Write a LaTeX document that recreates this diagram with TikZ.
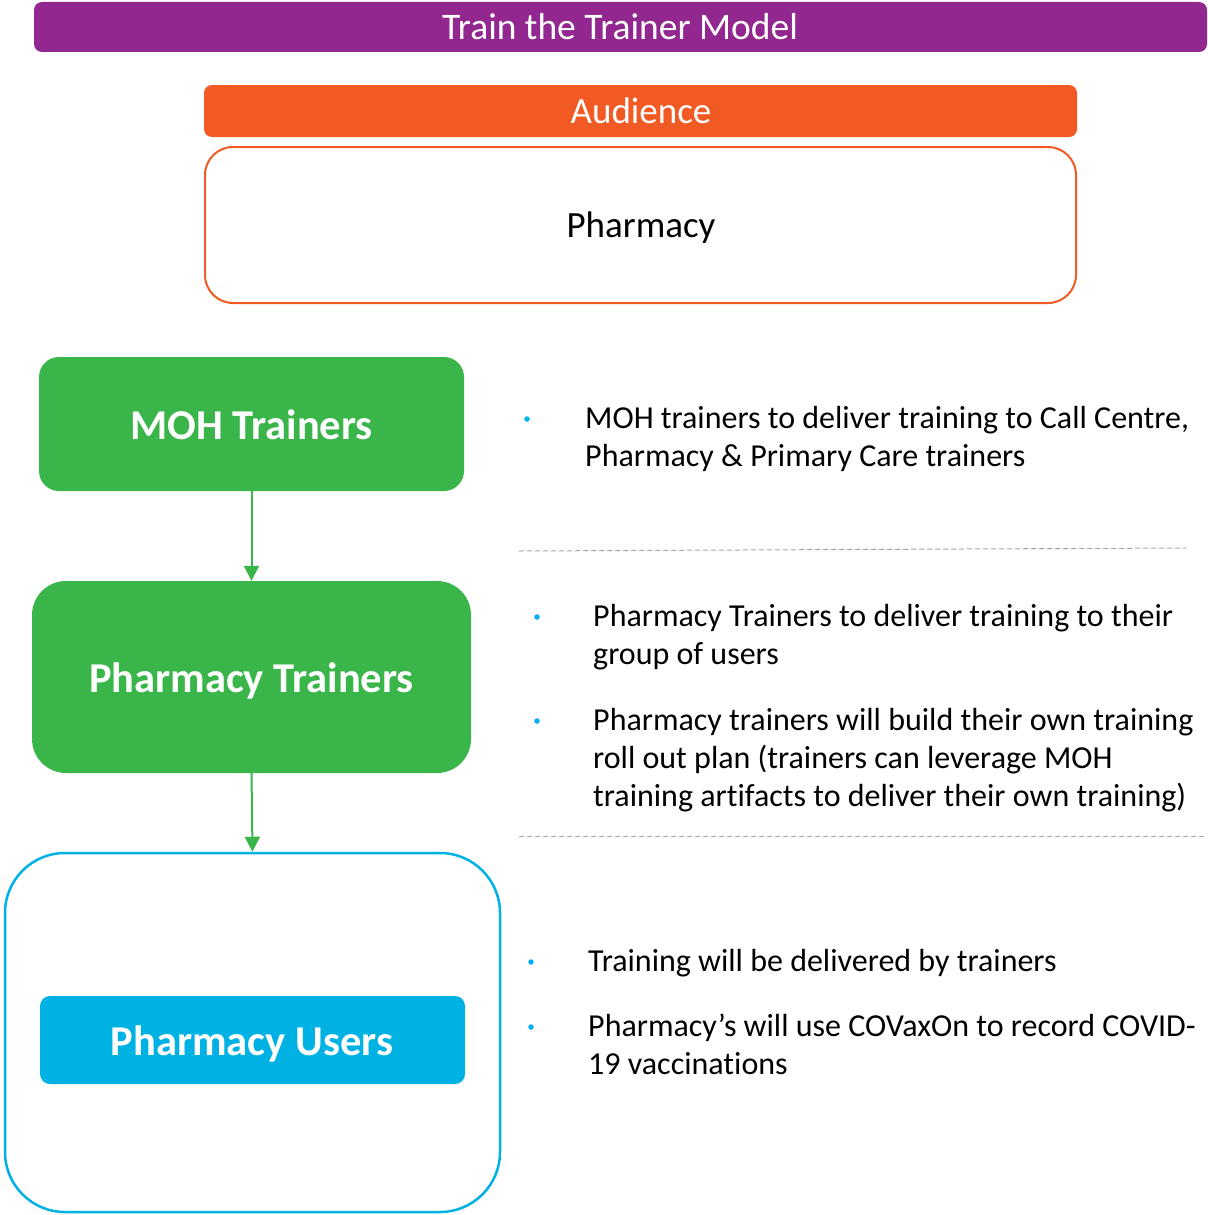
\documentclass[tikz,border=0pt]{standalone}
\usepackage{fontspec}
\setmainfont[Ligatures=NoCommon]{Carlito}
\usetikzlibrary{arrows.meta}
\definecolor{purp}{HTML}{92278F}
\definecolor{orng}{HTML}{F15A22}
\definecolor{grn}{HTML}{39B54A}
\definecolor{cyn}{HTML}{00B2E3}
\definecolor{dot}{HTML}{00B0F0}
\tikzset{
  box/.style={rectangle, inner sep=0pt, anchor=center},
  body/.style={anchor=base west, inner sep=0pt, font=\fontsize{32}{38}\selectfont},
  bul/.style={circle, fill=dot, inner sep=0pt, minimum size=5.5pt},
  flow/.style={grn, line width=2pt, -{Triangle[width=15pt,length=15pt]}},
  sep/.style={draw=gray!70, dashed, line width=1pt, dash pattern=on 5pt off 3pt}
}
\newcommand{\lines}[1]{\parbox[t]{640pt}{\raggedright #1}}
\begin{document}
\begin{tikzpicture}[x=1pt,y=-1pt]
\useasboundingbox (0,0) rectangle (1207,1215);
% header
\node[box, fill=purp, rounded corners=8pt, minimum width=1173pt, minimum height=50pt] (title) at (620.5,27) {};
\node[anchor=base, inner sep=0pt, text=white, font=\fontsize{37.5}{40}\selectfont] (titletxt) at (620,40) {Train the Trainer Model};
\node[box, fill=orng, rounded corners=8pt, minimum width=873pt, minimum height=52pt] (aud) at (640.5,111) {};
\node[anchor=base, inner sep=0pt, text=white, font=\fontsize{37}{40}\selectfont] (audtxt) at (641,123) {Audience};
\node[box, draw=orng, line width=2pt, rounded corners=28pt, minimum width=871pt, minimum height=156pt] (pharm) at (640.5,225) {};
\node[anchor=base, inner sep=0pt, font=\fontsize{37}{40}\selectfont] (pharmtxt) at (641,237) {Pharmacy};
% left flow
\node[box, fill=grn, rounded corners=20pt, minimum width=425pt, minimum height=134pt] (moh) at (251.5,424) {};
\node[anchor=base, inner sep=0pt, text=white, font=\fontsize{42.5}{46}\selectfont\bfseries] (mohtxt) at (251.5,439) {MOH Trainers};
\node[box, fill=grn, rounded corners=34pt, minimum width=439pt, minimum height=192pt] (pt) at (251.5,677) {};
\node[anchor=base, inner sep=0pt, text=white, font=\fontsize{42.5}{46}\selectfont\bfseries] (pttxt) at (251.5,692) {Pharmacy Trainers};
\node[box, draw=cyn, line width=2.5pt, rounded corners=60pt, minimum width=495pt, minimum height=359pt] (usersframe) at (252.5,1032.5) {};
\node[box, fill=cyn, rounded corners=10pt, minimum width=425pt, minimum height=88pt] (users) at (252.5,1040) {};
\node[anchor=base, inner sep=0pt, text=white, font=\fontsize{42.5}{46}\selectfont\bfseries] (userstxt) at (252,1055) {Pharmacy Users};
\draw[flow] (moh.south) -- (pt.north);
\draw[flow] (pt.south) -- (usersframe.north);
% right text
\node[bul] (b1) at (527,419) {};
\node[body] (t1) at (585,428) {\lines{MOH trainers to deliver training to Call Centre,\\Pharmacy \& Primary Care trainers}};
\coordinate (s1a) at (519,551);
\coordinate (s1b) at (1186,548);
\draw[sep] (s1a) -- (s1b);
\node[bul] (b2) at (537,617) {};
\node[body] (t2) at (593,626) {\lines{Pharmacy Trainers to deliver training to their\\group of users}};
\node[bul] (b3) at (537,721) {};
\node[body] (t3) at (593,730) {\lines{Pharmacy trainers will build their own training\\roll out plan (trainers can leverage MOH\\training artifacts to deliver their own training)}};
\coordinate (s2a) at (519,836);
\coordinate (s2b) at (1207,836);
\draw[sep] (s2a) -- (s2b);
\node[bul] (b4) at (531,962) {};
\node[body] (t4) at (588,971) {\lines{Training will be delivered by trainers}};
\node[bul] (b5) at (531,1027) {};
\node[body] (t5) at (588,1036) {\lines{Pharmacy’s will use COVaxOn to record COVID-\\19 vaccinations}};
\end{tikzpicture}
\end{document}
